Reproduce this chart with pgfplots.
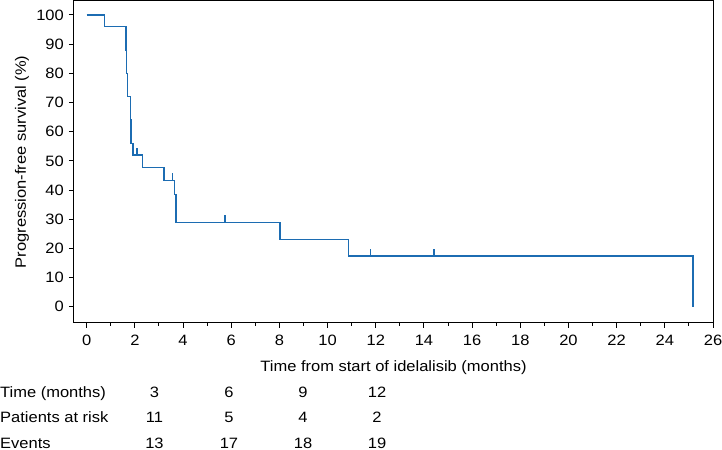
\documentclass[border=0pt]{standalone}
\usepackage{fontspec}
\setmainfont{Liberation Sans}[FakeStretch=1.1]
\usepackage{pgfplots}
\pgfplotsset{compat=1.18}
\definecolor{kmblue}{RGB}{28,108,178}
\begin{document}
\fontsize{15bp}{18bp}\selectfont
\begin{tikzpicture}
\begin{axis}[
  scale only axis,
  width=639bp, height=321.7bp,
  xmin=-0.527, xmax=26,
  ymin=-5.49, ymax=104.8,
  xtick={0,2,...,26},
  minor x tick num=1,
  ytick={0,10,...,100},
  tick align=outside,
  xtick pos=bottom, ytick pos=left,
  major tick length=5bp,
  minor tick length=3bp,
  axis line style={black, line width=1bp},
  every tick/.style={black, line width=1bp},
  /pgf/number format/assume math mode=true,
  tick label style={font=\fontsize{15bp}{18bp}\selectfont},
  xticklabel style={yshift=-2bp},
  xlabel={Time from start of idelalisib (months)},
  ylabel={Progression-free survival (\%)},
  xlabel style={at={(axis description cs:0.5,0)}, anchor=base, yshift=-49bp},
  ylabel style={at={(axis description cs:-0.0814,0.5)}, anchor=center},
  clip=false,
]
\addplot[kmblue, line width=1.4bp, const plot] coordinates {
  (0,100) (0.75,96) (1.63,88) (1.65,80) (1.70,72) (1.83,64) (1.84,56)
  (1.92,52) (2.31,47.67) (3.21,43.33) (3.65,38.52) (3.70,28.89)
  (8.03,23.11) (10.87,17.33) (25.17,17.33) (25.17,0)
};
\addplot[kmblue, line width=1.4bp, only marks, mark=|, mark size=3.5bp,
  mark options={yshift=3.5bp, line width=1.4bp}] coordinates {
  (2.09,52) (3.57,43.33) (5.74,28.89) (11.77,17.33) (14.42,17.33)
};
\end{axis}
% risk table
\node[anchor=base west, inner sep=0] at (-74bp,-74.6bp) {Time (months)};
\node[anchor=base west, inner sep=0] at (-74bp,-99.6bp) {Patients at risk};
\node[anchor=base west, inner sep=0] at (-74bp,-125.3bp) {Events};
\foreach \x/\a/\b/\c in {80.5/3/11/13, 155/6/5/17, 229/9/4/18, 303/12/2/19} {
  \node[anchor=base, inner sep=0] at (\x bp,-74.6bp) {\a};
  \node[anchor=base, inner sep=0] at (\x bp,-99.6bp) {\b};
  \node[anchor=base, inner sep=0] at (\x bp,-125.3bp) {\c};
}
\pgfresetboundingbox
\path[use as bounding box] (-74bp,-127.3bp) rectangle (648bp,322.7bp);
\end{tikzpicture}
\end{document}
